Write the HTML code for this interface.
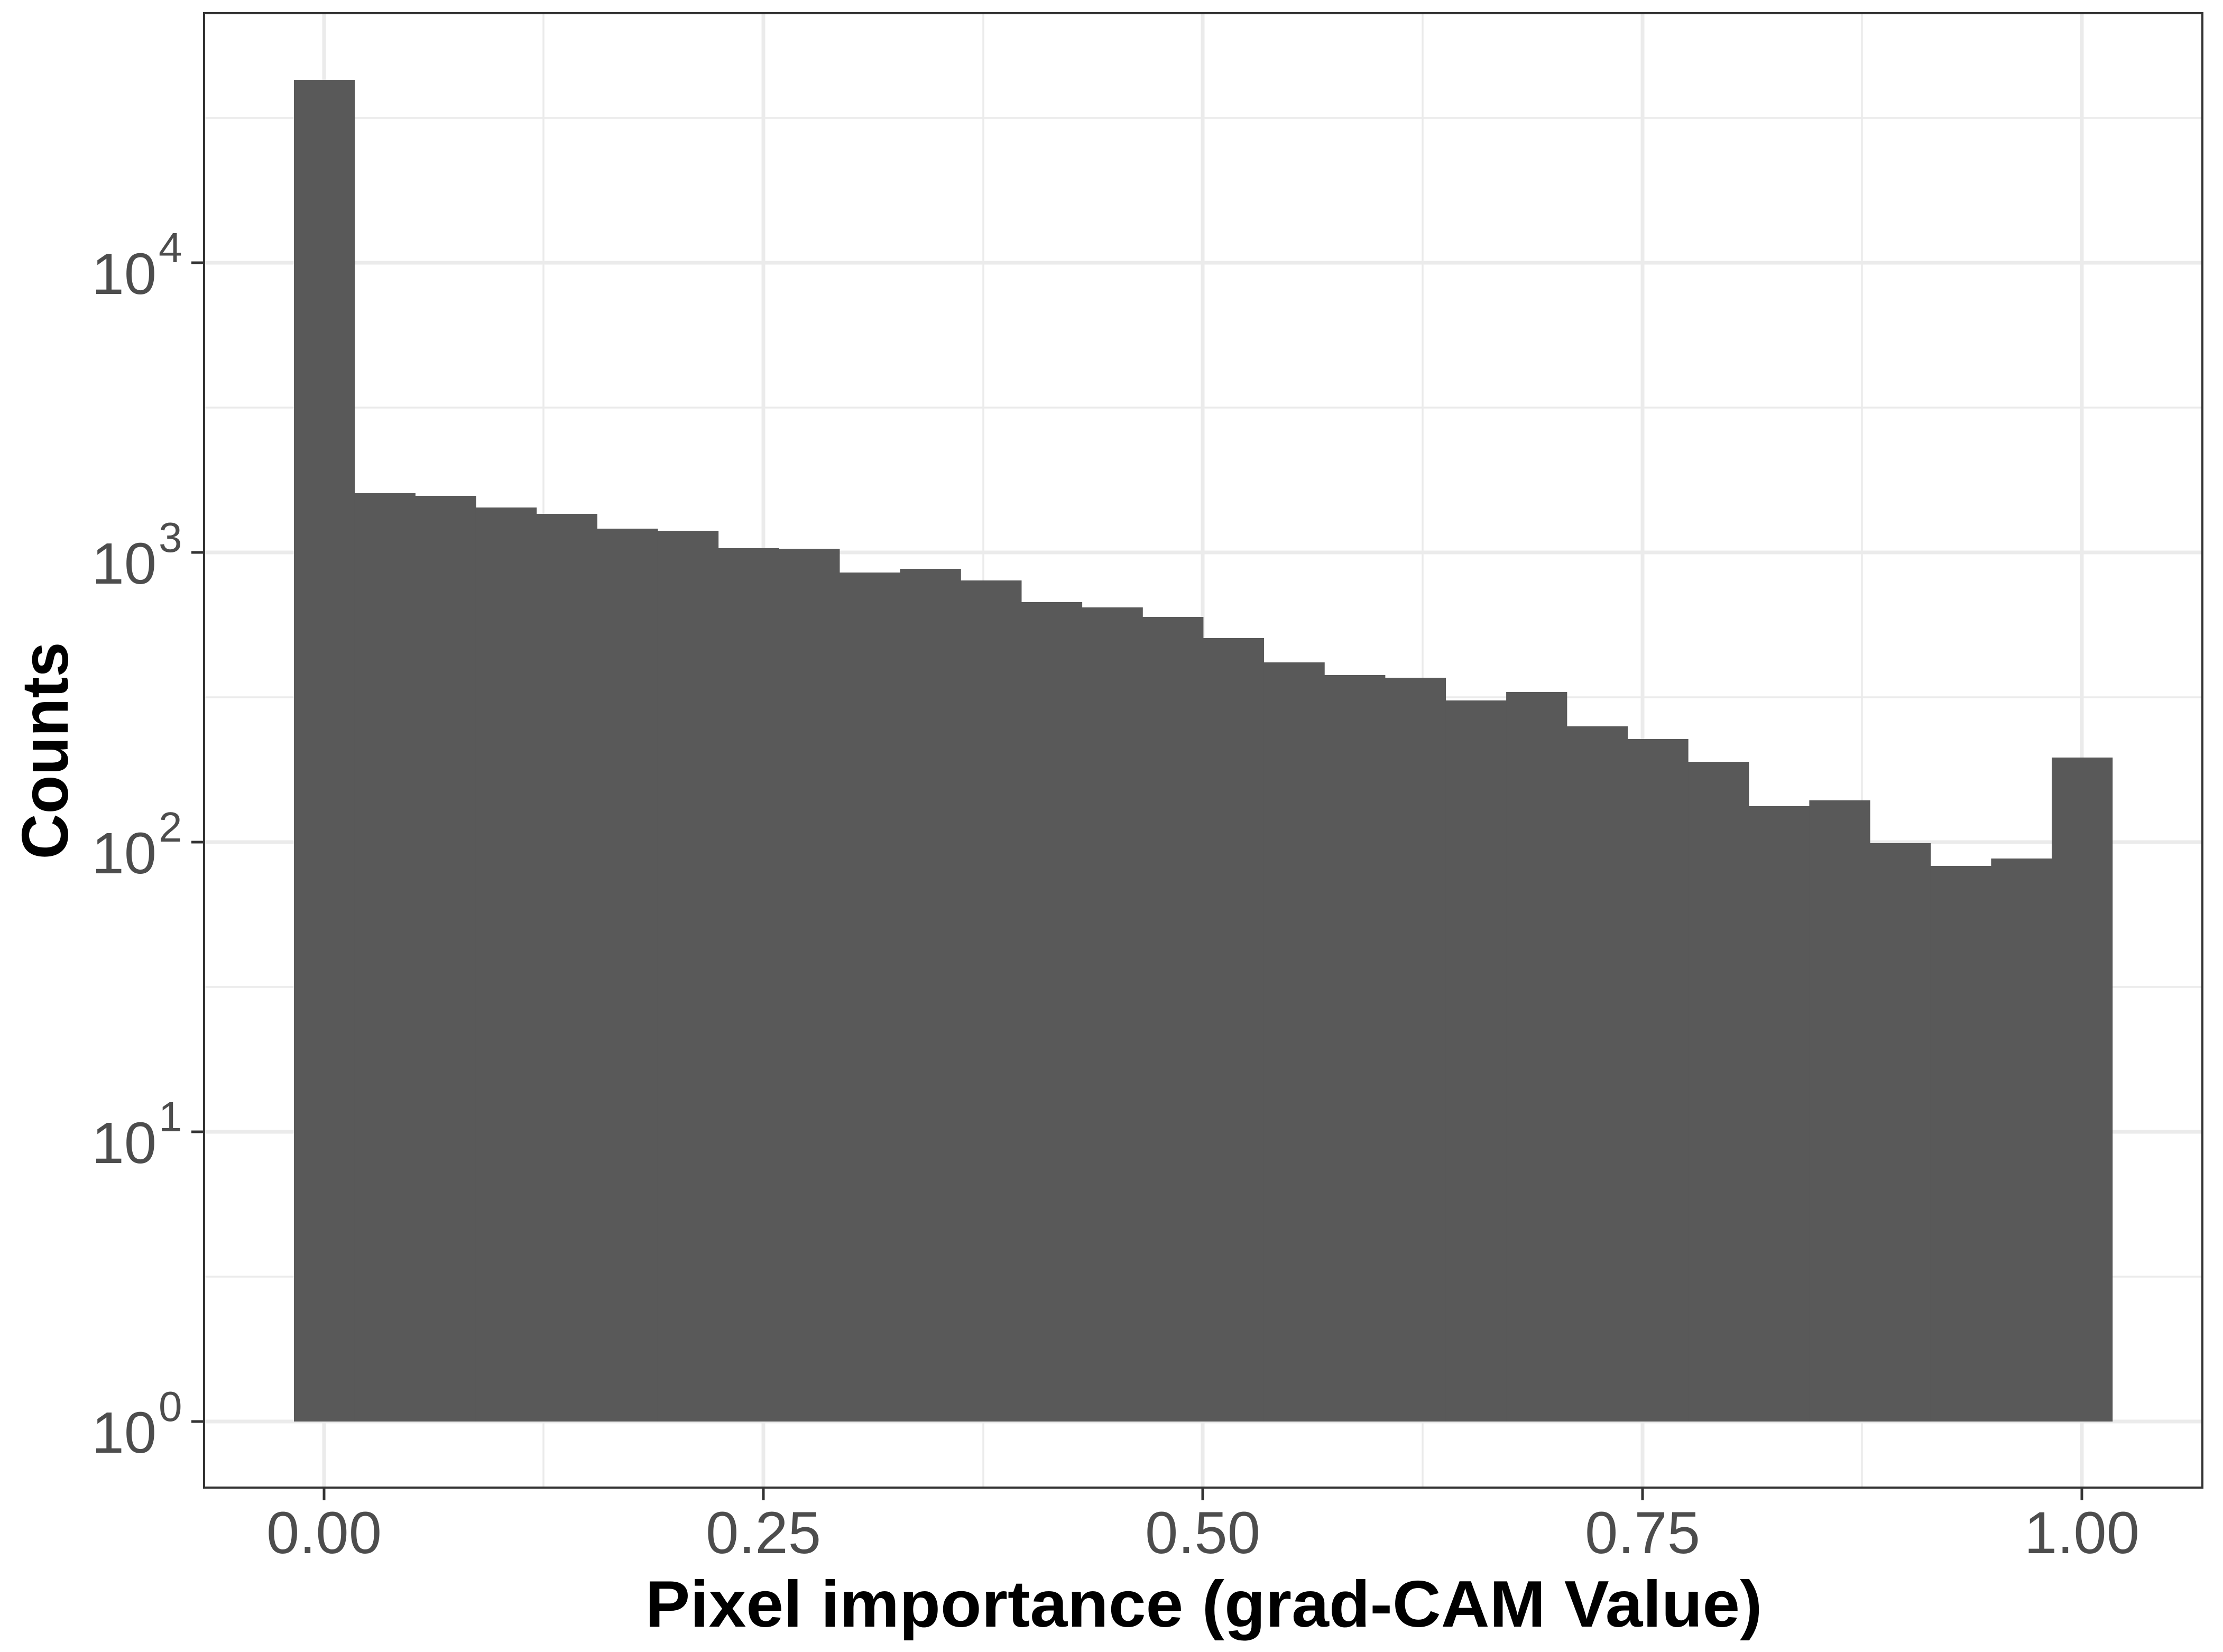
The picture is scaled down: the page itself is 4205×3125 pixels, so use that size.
<!DOCTYPE html>
<html><head><meta charset="utf-8"><style>html,body{margin:0;padding:0;background:#fff}svg{display:block}</style></head>
<body>
<svg width="4205" height="3125" viewBox="0 0 4205 3125" xmlns="http://www.w3.org/2000/svg" font-family="Liberation Sans, Arial, sans-serif">
<rect width="4205" height="3125" fill="#fff"/>
<g stroke="#ebebeb">
<g stroke-width="3.5">
<line x1="386" x2="4166" y1="223" y2="223"/><line x1="386" x2="4166" y1="771" y2="771"/><line x1="386" x2="4166" y1="1319" y2="1319"/><line x1="386" x2="4166" y1="1867" y2="1867"/><line x1="386" x2="4166" y1="2415" y2="2415"/>
<line y1="25" y2="2814" x1="1028" x2="1028"/><line y1="25" y2="2814" x1="1860" x2="1860"/><line y1="25" y2="2814" x1="2691" x2="2691"/><line y1="25" y2="2814" x1="3522" x2="3522"/>
</g>
<g stroke-width="7">
<line x1="386" x2="4166" y1="497" y2="497"/><line x1="386" x2="4166" y1="1045" y2="1045"/><line x1="386" x2="4166" y1="1593" y2="1593"/><line x1="386" x2="4166" y1="2141" y2="2141"/><line x1="386" x2="4166" y1="2689" y2="2689"/>
<line y1="25" y2="2814" x1="613" x2="613"/><line y1="25" y2="2814" x1="1444" x2="1444"/><line y1="25" y2="2814" x1="2275" x2="2275"/><line y1="25" y2="2814" x1="3107" x2="3107"/><line y1="25" y2="2814" x1="3938" x2="3938"/>
</g>
</g>
<g id="bars" fill="#595959"></g>
<rect x="386" y="25" width="3780" height="2789" fill="none" stroke="#333" stroke-width="4"/>
<g stroke="#333" stroke-width="5">
<line x1="362" x2="386" y1="497" y2="497"/><line x1="362" x2="386" y1="1045" y2="1045"/><line x1="362" x2="386" y1="1593" y2="1593"/><line x1="362" x2="386" y1="2141" y2="2141"/><line x1="362" x2="386" y1="2689" y2="2689"/>
<line y1="2814" y2="2838" x1="613" x2="613"/><line y1="2814" y2="2838" x1="1444" x2="1444"/><line y1="2814" y2="2838" x1="2275" x2="2275"/><line y1="2814" y2="2838" x1="3107" x2="3107"/><line y1="2814" y2="2838" x1="3938" x2="3938"/>
</g>
<g fill="#4d4d4d" font-size="112" text-anchor="middle">
<text x="613" y="2938">0.00</text><text x="1444" y="2938">0.25</text><text x="2275" y="2938">0.50</text><text x="3107" y="2938">0.75</text><text x="3938" y="2938">1.00</text>
</g>
<g fill="#4d4d4d">
<g font-size="110" text-anchor="end">
<text x="296" y="556">10</text><text x="296" y="1104">10</text><text x="296" y="1652">10</text><text x="296" y="2200">10</text><text x="296" y="2748">10</text>
</g>
<g font-size="80">
<text x="300" y="496">4</text><text x="300" y="1044">3</text><text x="300" y="1592">2</text><text x="300" y="2140">1</text><text x="300" y="2688">0</text>
</g>
</g>
<text x="2277" y="3077" font-size="124" font-weight="bold" text-anchor="middle" textLength="2113" lengthAdjust="spacingAndGlyphs">Pixel importance (grad-CAM Value)</text>
<text transform="translate(128,1420) rotate(-90)" font-size="124" font-weight="bold" text-anchor="middle" textLength="411" lengthAdjust="spacingAndGlyphs">Counts</text>
</svg>
<script>
var tops=[151,933,938,960,972,1000,1004,1037,1038,1083,1076,1098,1139,1149,1167,1207,1253,1277,1282,1325,1309,1374,1398,1441,1525,1514,1595,1638,1624,1433];
var g=document.getElementById('bars'),s='';
var w=3325/29;
for(var i=0;i<30;i++){var x0=556+i*w;s+='<rect x="'+x0.toFixed(2)+'" y="'+tops[i]+'" width="'+(w+0.6).toFixed(2)+'" height="'+(2689-tops[i])+'"/>';}
g.innerHTML=s;
</script>
</body></html>
